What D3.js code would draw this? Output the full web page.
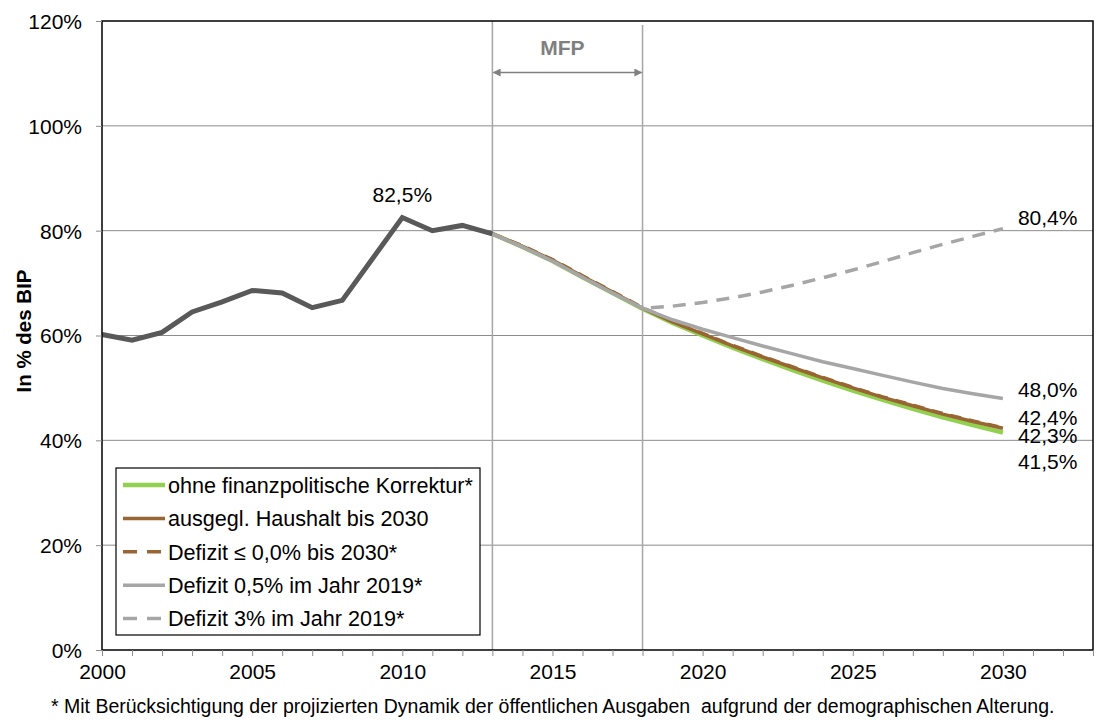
<!DOCTYPE html>
<html>
<head>
<meta charset="utf-8">
<script src="https://cdn.jsdelivr.net/npm/d3@7"></script>
<style>
  body { margin: 0; background: #fff; }
  svg text { font-family: "Liberation Sans", Arial, sans-serif; }
</style>
</head>
<body>
<div id="chart"></div>
<script>
// data (debt in % of GDP)
var histYears = [2000, 2001, 2002, 2003, 2004, 2005, 2006, 2007, 2008, 2009, 2010, 2011, 2012, 2013]
var histValues = [60.2, 59.1, 60.6, 64.5, 66.4, 68.6, 68.1, 65.3, 66.7, 74.6, 82.5, 80.0, 81.0, 79.4]

var projYears = [2013, 2014, 2015, 2016, 2017, 2018, 2019, 2020, 2021, 2022, 2023, 2024, 2025, 2026, 2027, 2028, 2029, 2030]
var ohneKorrektur = [79.4, 76.9, 74.2, 71.1, 68.1, 65.1, 62.4, 60.0, 57.7, 55.5, 53.4, 51.4, 49.5, 47.7, 46.0, 44.4, 42.9, 41.5]
var ausgeglHaushalt = [79.4, 77.0, 74.4, 71.3, 68.3, 65.2, 62.6, 60.3, 58.0, 55.9, 53.9, 51.9, 50.0, 48.2, 46.6, 45.0, 43.6, 42.3]
var defizitNull = [79.4, 77.1, 74.5, 71.4, 68.4, 65.3, 62.7, 60.4, 58.1, 56.0, 54.0, 52.0, 50.1, 48.3, 46.7, 45.1, 43.7, 42.4]
var defizitHalb = [79.4, 76.9, 74.2, 71.1, 68.1, 65.2, 63.0, 61.2, 59.6, 58.0, 56.5, 55.0, 53.7, 52.4, 51.1, 49.9, 48.9, 48.0]
var defizitDrei = [79.4, 76.9, 74.2, 71.1, 68.1, 65.2, 65.6, 66.3, 67.2, 68.3, 69.6, 71.0, 72.5, 74.1, 75.8, 77.4, 78.9, 80.4]

var yTicks = [0, 20, 40, 60, 80, 100, 120]
var xLabelYears = [2000, 2005, 2010, 2015, 2020, 2025, 2030]
var mfpYears = [2013, 2018]

// end labels
var endLabels = [
  {text: "80,4%", dy: 225},
  {text: "48,0%", dy: 397},
  {text: "42,4%", dy: 425},
  {text: "42,3%", dy: 443},
  {text: "41,5%", dy: 469}
]

// set the dimensions and margins of the graph
var margin = {top: 21, right: 4, bottom: 70, left: 102},
  width = 1097 - margin.left - margin.right,
  height = 720 - margin.top - margin.bottom;

var svg = d3.select("#chart")
  .append("svg")
  .attr("width", 1097)
  .attr("height", 720)

var g = svg.append("g")
  .attr("transform", "translate(" + margin.left + "," + margin.top + ")");

var x = d3.scaleLinear()
  .domain([2000, 2033])
  .range([0, 991])

var y = d3.scaleLinear()
  .domain([0, 120])
  .range([629, 0])

// gridlines
g.selectAll(".grid")
  .data(yTicks.filter(function(d){ return d > 0 && d < 120 }))
  .enter()
  .append("line")
  .attr("x1", 0)
  .attr("x2", x(2033))
  .attr("y1", function(d){ return y(d) })
  .attr("y2", function(d){ return y(d) })
  .style("stroke", "#8c8c8c")
  .style("stroke-width", 1)

// MFP verticals
g.selectAll(".mfp")
  .data(mfpYears)
  .enter()
  .append("line")
  .attr("x1", function(d){ return x(d) })
  .attr("x2", function(d){ return x(d) })
  .attr("y1", function(d, i){ return i == 0 ? 0 : 4 })
  .attr("y2", y(0))
  .style("stroke", "#a6a6a6")
  .style("stroke-width", 1.5)

// arrow markers
var defs = svg.append("defs")
defs.append("marker")
  .attr("id", "arr")
  .attr("viewBox", "0 0 10 10")
  .attr("refX", 9).attr("refY", 5)
  .attr("markerWidth", 10).attr("markerHeight", 8)
  .attr("markerUnits", "userSpaceOnUse")
  .attr("orient", "auto-start-reverse")
  .append("path")
  .attr("d", "M0,0 L10,5 L0,10 z")
  .style("fill", "#808080")

g.append("line")
  .attr("x1", x(mfpYears[0]) + 1)
  .attr("x2", x(mfpYears[1]) - 1)
  .attr("y1", 51.5)
  .attr("y2", 51.5)
  .style("stroke", "#808080")
  .style("stroke-width", 1.5)
  .attr("marker-start", "url(#arr)")
  .attr("marker-end", "url(#arr)")

g.append("text")
  .attr("x", (x(mfpYears[0]) + x(mfpYears[1])) / 2 - 5)
  .attr("y", 34)
  .attr("text-anchor", "middle")
  .style("font-size", "21px")
  .style("font-weight", "bold")
  .style("fill", "#808080")
  .text("MFP")

// lines
var line = d3.line()
  .x(function(d){ return x(d[0]) })
  .y(function(d){ return y(d[1]) })

function pairs(years, vals){
  return years.map(function(yr, i){ return [yr, vals[i]] })
}

// series in legend order
var series = [
  {name: "ohne finanzpolitische Korrektur*", vals: ohneKorrektur, color: "#92d050", w: 4.5, dash: null, z: 0},
  {name: "ausgegl. Haushalt bis 2030", vals: ausgeglHaushalt, color: "#996633", w: 3.5, dash: null, z: 1},
  {name: "Defizit \u2264 0,0% bis 2030*", vals: defizitNull, color: "#996633", w: 3.5, dash: "11,8", z: 2},
  {name: "Defizit 0,5% im Jahr 2019*", vals: defizitHalb, color: "#a6a6a6", w: 3.5, dash: null, z: 4},
  {name: "Defizit 3% im Jahr 2019*", vals: defizitDrei, color: "#a6a6a6", w: 3.5, dash: "13,9", z: 3}
]

series.slice().sort(function(a, b){ return a.z - b.z }).forEach(function(s){
  g.append("path")
    .datum(pairs(projYears, s.vals))
    .attr("d", line)
    .style("fill", "none")
    .style("stroke", s.color)
    .style("stroke-width", s.w)
    .style("stroke-dasharray", s.dash)
})

g.append("path")
  .datum(pairs(histYears, histValues))
  .attr("d", line)
  .style("fill", "none")
  .style("stroke", "#595959")
  .style("stroke-width", 5)
  .style("stroke-linejoin", "miter")

// frame
g.append("rect")
  .attr("x", 0).attr("y", 0)
  .attr("width", x(2033)).attr("height", y(0))
  .style("fill", "none")
  .style("stroke", "#000")
  .style("stroke-width", 1.5)

// axes
var yAxis = g.append("g")
  .call(d3.axisLeft(y).tickValues(yTicks).tickSize(6).tickFormat(function(d){ return d + "%" }))
yAxis.select(".domain").remove()
yAxis.selectAll("line").style("stroke", "#8c8c8c")
yAxis.selectAll("text")
  .attr("x", -20)
  .attr("dy", "0.35em")
  .style("font-size", "21px")
  .style("font-family", "Liberation Sans, Arial, sans-serif")
  .style("fill", "#000")

var xAxis = g.append("g")
  .attr("transform", "translate(0," + y(0) + ")")
  .call(d3.axisBottom(x).tickValues(d3.range(2000, 2034)).tickSize(6)
    .tickFormat(function(d){ return xLabelYears.indexOf(d) >= 0 ? d : "" }))
xAxis.select(".domain").remove()
xAxis.selectAll("line").style("stroke", "#8c8c8c")
xAxis.selectAll("text")
  .attr("y", 14)
  .attr("dy", "0.71em")
  .style("font-size", "21px")
  .style("font-family", "Liberation Sans, Arial, sans-serif")
  .style("fill", "#000")

// data labels
g.append("text")
  .attr("x", x(2010))
  .attr("y", 202 - margin.top)
  .attr("text-anchor", "middle")
  .style("font-size", "21px")
  .text("82,5%")

g.selectAll(".endlab")
  .data(endLabels)
  .enter()
  .append("text")
  .attr("x", x(2030) + 15)
  .attr("y", function(d){ return d.dy - margin.top })
  .style("font-size", "21px")
  .text(function(d){ return d.text })

// axis title
svg.append("text")
  .attr("transform", "translate(31,331) rotate(-90)")
  .attr("text-anchor", "middle")
  .style("font-size", "20.5px")
  .style("font-weight", "bold")
  .text("In % des BIP")

// legend
var legend = svg.append("g").attr("transform", "translate(116,468)")
legend.append("rect")
  .attr("width", 364).attr("height", 167)
  .style("fill", "#fff")
  .style("stroke", "#000")
  .style("stroke-width", 1.2)

var legendRows = legend.selectAll(".row")
  .data(series)
  .enter()
  .append("g")
  .attr("transform", function(d, i){ return "translate(0," + (17 + i * 33.4) + ")" })

legendRows.append("line")
  .attr("x1", 7).attr("x2", 49)
  .style("stroke", function(d){ return d.color })
  .style("stroke-width", function(d){ return d.w })
  .style("stroke-dasharray", function(d){ return d.dash ? "14,10" : null })

legendRows.append("text")
  .attr("x", 52)
  .attr("dy", "0.36em")
  .style("font-size", "21.6px")
  .text(function(d){ return d.name })

// footnote
svg.append("text")
  .attr("x", 51)
  .attr("y", 713)
  .attr("xml:space", "preserve")
  .style("white-space", "pre")
  .style("font-size", "19.5px")
  .text("* Mit Berücksichtigung der projizierten Dynamik der öffentlichen Ausgaben  aufgrund der demographischen Alterung.")
</script>
</body>
</html>
